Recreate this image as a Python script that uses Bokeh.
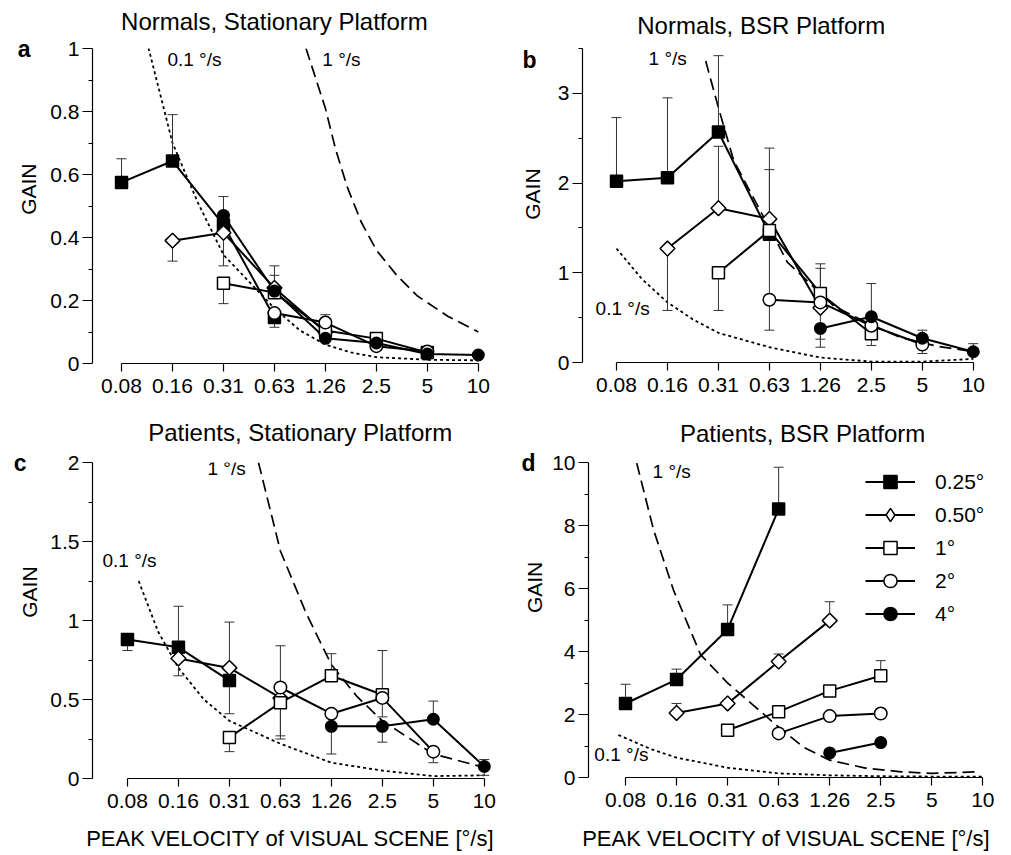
import math
from bokeh.plotting import figure
from bokeh.models import (Range1d, FixedTicker, CustomJSTickFormatter, Label,
                          Legend, LegendItem, LinearAxis)
from bokeh.layouts import column, row
from bokeh.embed import file_html
from bokeh.resources import INLINE

N = None
FONT = "Liberation Sans"

# ---------------- data ----------------
VEL = ["0.08", "0.16", "0.31", "0.63", "1.26", "2.5", "5", "10"]
SIZES = ["0.25°", "0.50°", "1°", "2°", "4°"]

# a: Normals, stationary platform (gain per velocity, None = not measured)
A_025 = [0.575, 0.643, 0.44, 0.146, N, N, N, N]
A_050 = [N, 0.39, 0.415, 0.24, 0.10, N, N, N]
A_1 = [N, N, 0.255, 0.225, 0.105, 0.079, 0.035, N]
A_2 = [N, N, N, 0.16, 0.13, 0.055, 0.038, N]
A_4 = [N, N, 0.47, 0.23, 0.08, 0.065, 0.03, 0.027]
A_ERR = [("0.25°", 0, 0.65), ("0.25°", 1, 0.79), ("0.25°", 3, 0.115),
         ("0.50°", 1, 0.325), ("0.50°", 2, 0.31), ("0.50°", 3, 0.31),
         ("1°", 2, 0.19), ("1°", 3, 0.28), ("2°", 4, 0.155), ("4°", 2, 0.53)]
A_DOT_X = [0.5, 1.0, 1.5, 2.0, 2.5, 3.0, 3.5, 4.0, 4.5, 5.0, 6.0, 7.0]
A_DOT_Y = [1.02, 0.70, 0.51, 0.345, 0.26, 0.175, 0.105, 0.06, 0.035, 0.02, 0.012, 0.01]
A_DASH_X = [3.62, 3.8, 4.0, 4.2, 4.43, 4.7, 5.0, 5.4, 5.8, 6.4, 7.0]
A_DASH_Y = [1.0, 0.91, 0.81, 0.68, 0.56, 0.45, 0.36, 0.28, 0.215, 0.15, 0.10]

# b: Normals, BSR platform
B_025 = [2.02, 2.06, 2.57, 1.43, N, N, N, N]
B_050 = [N, 1.27, 1.72, 1.60, 0.61, N, N, N]
B_1 = [N, N, 1.00, 1.47, 0.77, 0.32, N, N]
B_2 = [N, N, N, 0.70, 0.67, 0.41, 0.20, N]
B_4 = [N, N, N, N, 0.38, 0.51, 0.27, 0.12]
B_ERR = [("0.25°", 0, 2.73), ("0.25°", 1, 2.95), ("0.25°", 2, 3.42),
         ("0.25°", 3, 2.15), ("0.25°", 3, 0.36), ("0.50°", 1, 0.58),
         ("0.50°", 2, 2.41), ("0.50°", 3, 2.39), ("0.50°", 4, 0.26),
         ("1°", 2, 0.58), ("1°", 4, 1.10), ("1°", 5, 0.19), ("2°", 4, 1.05),
         ("2°", 6, 0.10), ("4°", 4, 0.17), ("4°", 5, 0.88), ("4°", 6, 0.36),
         ("4°", 7, 0.21)]
B_DOT_X = [0.0, 0.5, 1.0, 1.5, 2.0, 3.0, 4.0, 5.0, 6.0, 7.0]
B_DOT_Y = [1.27, 0.93, 0.67, 0.48, 0.33, 0.17, 0.055, 0.01, 0.01, 0.04]
B_DASH_X = [1.75, 2.0, 2.3, 3.0, 3.35, 4.26, 5.0, 5.57, 6.3, 6.9]
B_DASH_Y = [3.36, 2.84, 2.25, 1.5, 1.12, 0.63, 0.42, 0.28, 0.18, 0.13]

# c: Patients, stationary platform
C_025 = [0.88, 0.83, 0.62, N, N, N, N, N]
C_050 = [N, 0.76, 0.70, 0.51, N, N, N, N]
C_1 = [N, N, 0.26, 0.48, 0.65, 0.53, N, N]
C_2 = [N, N, N, 0.576, 0.41, 0.51, 0.17, N]
C_4 = [N, N, N, N, 0.33, 0.33, 0.375, 0.076]
C_ERR = [("0.25°", 0, 0.81), ("0.25°", 1, 1.09), ("0.25°", 2, 0.41),
         ("0.50°", 1, 0.65), ("0.50°", 2, 0.99), ("0.50°", 3, 0.25),
         ("1°", 2, 0.17), ("1°", 3, 0.84), ("1°", 4, 0.79), ("1°", 5, 0.81),
         ("2°", 3, 0.27), ("2°", 5, 0.39), ("2°", 6, 0.10), ("4°", 4, 0.155),
         ("4°", 5, 0.23), ("4°", 6, 0.49), ("4°", 7, 0.12), ("4°", 7, 0.02)]
C_DOT_X = [0.22, 0.6, 1.0, 1.5, 2.0, 3.0, 4.0, 5.0, 6.0, 7.0]
C_DOT_Y = [1.25, 0.93, 0.70, 0.50, 0.365, 0.22, 0.10, 0.05, 0.015, 0.02]
C_DASH_X = [2.57, 3.0, 3.5, 4.0, 4.5, 5.0, 6.0, 7.0]
C_DASH_Y = [2.0, 1.44, 1.05, 0.72, 0.52, 0.365, 0.155, 0.07]

# d: Patients, BSR platform
D_025 = [2.35, 3.11, 4.70, 8.52, N, N, N, N]
D_050 = [N, 2.05, 2.35, 3.68, 4.98, N, N, N]
D_1 = [N, N, 1.50, 2.09, 2.75, 3.23, N, N]
D_2 = [N, N, N, 1.40, 1.95, 2.03, N, N]
D_4 = [N, N, N, N, 0.78, 1.11, N, N]
D_ERR = [("0.25°", 0, 2.96), ("0.25°", 1, 3.44), ("0.25°", 2, 5.48),
         ("0.25°", 3, 9.85), ("0.50°", 1, 2.35), ("0.50°", 3, 3.92),
         ("0.50°", 4, 5.58), ("1°", 5, 3.71)]
D_DOT_X = [-0.14, 0.5, 1.0, 2.0, 3.0, 4.0, 5.0, 6.0, 7.0]
D_DOT_Y = [1.35, 0.90, 0.63, 0.31, 0.13, 0.07, 0.04, 0.03, 0.03]
D_DASH_X = [0.22, 0.55, 0.94, 1.47, 2.0, 2.5, 3.0, 3.5, 4.0, 4.7, 5.4, 6.0, 6.9]
D_DASH_Y = [9.98, 7.86, 5.95, 3.9, 3.0, 2.3, 1.6, 0.95, 0.55, 0.3, 0.18, 0.13, 0.18]

# ---------------- styling ----------------
STYLE = {
    "0.25°": dict(marker="square", size=12, fill_color="black", angle=0.0),
    "0.50°": dict(marker="square", size=10.5, fill_color="white", angle=math.pi / 4),
    "1°": dict(marker="square", size=12, fill_color="white", angle=0.0),
    "2°": dict(marker="circle", size=12.5, fill_color="white", angle=0.0),
    "4°": dict(marker="circle", size=11.5, fill_color="black", angle=0.0),
}
TICK_SIZE = "21px"


def make_fig(x0, x1, ytop, fw, fh, left, right, top, bottom, ymaj, ymin):
    p = figure(frame_width=fw, frame_height=fh, x_range=Range1d(x0, x1),
               y_range=Range1d(0, ytop), output_backend="svg",
               toolbar_location=None, min_border_left=left,
               min_border_right=right, min_border_top=top,
               min_border_bottom=bottom)
    p.outline_line_color = None
    p.grid.visible = False
    p.background_fill_color = "white"
    p.border_fill_color = "white"
    xa = p.below[0]
    xa.ticker = FixedTicker(ticks=list(range(len(VEL))))
    xa.major_label_overrides = {i: v for i, v in enumerate(VEL)}
    xa.bounds = (0, len(VEL) - 1)
    xa.major_tick_out = 8
    xa.major_tick_in = 0
    xa.major_label_standoff = 7
    ya = p.left[0]
    ya.ticker = FixedTicker(ticks=ymaj, minor_ticks=ymin)
    ya.formatter = CustomJSTickFormatter(code="return String(tick);")
    ya.bounds = (0, ytop)
    ya.major_tick_out = 10
    ya.major_tick_in = 0
    ya.minor_tick_out = 4
    ya.minor_tick_in = 0
    ya.major_label_standoff = 3
    for ax in (xa, ya):
        ax.axis_line_color = "black"
        ax.axis_line_width = 1.2
        ax.major_tick_line_color = "black"
        ax.major_tick_line_width = 1.2
        ax.minor_tick_line_color = "black" if ax is ya else None
        ax.major_label_text_font = FONT
        ax.major_label_text_font_size = TICK_SIZE
        ax.major_label_text_color = "black"
    return p


def text_axis(p, side, tick, text, size, standoff, bold=False, vertical=False):
    """A tick-less axis that carries one text (title, panel letter, GAIN)."""
    ax = LinearAxis(ticker=FixedTicker(ticks=[tick]),
                    major_label_overrides={tick: text})
    ax.axis_line_color = None
    ax.major_tick_line_color = None
    ax.minor_tick_line_color = None
    ax.major_tick_out = 0
    ax.major_tick_in = 0
    ax.minor_tick_out = 0
    ax.minor_tick_in = 0
    ax.major_label_standoff = standoff
    ax.major_label_text_font = FONT
    ax.major_label_text_font_size = size
    ax.major_label_text_color = "black"
    ax.major_label_text_font_style = "bold" if bold else "normal"
    if vertical:
        ax.major_label_orientation = math.pi / 2
    p.add_layout(ax, side)


def txt(p, x, y, text, size):
    p.add_layout(Label(x=x, y=y, text=text, text_font=FONT,
                       text_font_size=size, text_align="left",
                       text_baseline="middle", text_color="black"))


def xlabel(p, standoff):
    xa = p.below[0]
    xa.axis_label = "PEAK VELOCITY  of VISUAL SCENE [°/s]"
    xa.axis_label_text_font = FONT
    xa.axis_label_text_font_size = "22px"
    xa.axis_label_text_font_style = "normal"
    xa.axis_label_text_color = "black"
    xa.axis_label_standoff = standoff


def draw(p, series, err, dot_x, dot_y, dash_x, dash_y):
    gains = dict(zip(SIZES, series))
    p.line(dot_x, dot_y, line_color="black", line_width=1.8, line_dash="3 3")
    p.line(dash_x, dash_y, line_color="black", line_width=1.7, line_dash="12 6")
    ex, ey0, ey1 = [], [], []
    for name, i, end in err:
        ex.append(i)
        ey0.append(gains[name][i])
        ey1.append(end)
    p.segment(x0=ex, y0=ey0, x1=ex, y1=ey1, line_color="#333333", line_width=1)
    p.scatter(ex, ey1, marker="dash", size=10, line_color="#333333", line_width=1)
    lines, marks = {}, {}
    for name in SIZES:
        xs = [i for i, v in enumerate(gains[name]) if v is not None]
        ys = [gains[name][i] for i in xs]
        lines[name] = p.line(xs, ys, line_color="black", line_width=2)
    for name in SIZES:
        xs = [i for i, v in enumerate(gains[name]) if v is not None]
        ys = [gains[name][i] for i in xs]
        st = STYLE[name]
        marks[name] = p.scatter(xs, ys, marker=st["marker"], size=st["size"],
                                fill_color=st["fill_color"], angle=st["angle"],
                                line_color="black", line_width=1.5)
    return lines, marks


# panel a
pa = make_fig(-0.57, 7.2, 1.0, 396, 315, 92, 12, 46, 54,
              [0, 0.2, 0.4, 0.6, 0.8, 1], [0.1, 0.3, 0.5, 0.7, 0.9])
draw(pa, [A_025, A_050, A_1, A_2, A_4], A_ERR, A_DOT_X, A_DOT_Y, A_DASH_X, A_DASH_Y)
text_axis(pa, "above", 3.0, "Normals, Stationary Platform", "24px", 14)
text_axis(pa, "left", 0.635, "GAIN", "21px", 19, vertical=True)
text_axis(pa, "left", 1.0, "a", "23px", -28, bold=True)
txt(pa, 0.90, 0.965, "0.1 °/s", "19px")
txt(pa, 3.94, 0.965, "1 °/s", "19px")

# panel b
pb = make_fig(-0.667, 7.2, 3.5, 401, 314, 82, 27, 48, 53,
              [0, 1, 2, 3], [0.5, 1.5, 2.5, 3.5])
draw(pb, [B_025, B_050, B_1, B_2, B_4], B_ERR, B_DOT_X, B_DOT_Y, B_DASH_X, B_DASH_Y)
text_axis(pb, "above", 2.84, "Normals, BSR Platform", "24px", 10)
text_axis(pb, "left", 2.163, "GAIN", "21px", 22, vertical=True)
text_axis(pb, "left", 3.373, "b", "23px", -30, bold=True)
txt(pb, 0.63, 3.39, "1 °/s", "19px")
txt(pb, -0.41, 0.60, "0.1 °/s", "19px")

# panel c
pc = make_fig(-0.686, 7.2, 2.0, 402, 316, 92, 13, 47, 77,
              [0, 0.5, 1, 1.5, 2], [0.25, 0.75, 1.25, 1.75])
draw(pc, [C_025, C_050, C_1, C_2, C_4], C_ERR, C_DOT_X, C_DOT_Y, C_DASH_X, C_DASH_Y)
xlabel(pc, 15)
text_axis(pc, "above", 3.39, "Patients, Stationary Platform", "24px", 17)
text_axis(pc, "left", 1.342, "GAIN", "21px", 18, vertical=True)
text_axis(pc, "left", 2.0, "c", "23px", -23, bold=True)
txt(pc, 1.57, 1.96, "1 °/s", "19px")
txt(pc, -0.49, 1.38, "0.1 °/s", "19px")

# panel d
pd_ = make_fig(-0.725, 7.15, 10.0, 402, 315, 81, 21, 44, 81,
               [0, 2, 4, 6, 8, 10], [1, 3, 5, 7, 9])
lines_d, marks_d = draw(pd_, [D_025, D_050, D_1, D_2, D_4], D_ERR,
                        D_DOT_X, D_DOT_Y, D_DASH_X, D_DASH_Y)
xlabel(pd_, 16)
text_axis(pd_, "above", 3.47, "Patients, BSR Platform", "24px", 16)
text_axis(pd_, "left", 6.85, "GAIN", "21px", 15, vertical=True)
text_axis(pd_, "left", 10.0, "d", "23px", -27, bold=True)
txt(pd_, 0.53, 9.71, "1 °/s", "19px")
txt(pd_, -0.61, 0.73, "0.1 °/s", "19px")

# legend swatch for the 0.50° entry (legends cannot rotate a square into a
# diamond); it sits underneath the real diamonds so only the legend shows it
xs050 = [i for i, v in enumerate(D_050) if v is not None]
diamond_swatch = pd_.scatter(xs050, [D_050[i] for i in xs050], marker="diamond",
                             size=6, fill_color="white", line_color="black",
                             line_width=1.5, level="underlay")
legend_items = []
for n in SIZES:
    rs = [lines_d[n], diamond_swatch if n == "0.50°" else marks_d[n]]
    legend_items.append(LegendItem(label=n, renderers=rs))
legend = Legend(items=legend_items, location=(277, 147))
legend.label_text_font = FONT
legend.label_text_font_size = "21px"
legend.label_text_color = "black"
legend.glyph_width = 50
legend.glyph_height = 33
legend.label_height = 33
legend.spacing = 0
legend.padding = 0
legend.margin = 0
legend.label_standoff = 20
legend.border_line_color = None
legend.background_fill_alpha = 0
pd_.add_layout(legend)

layout = column(row(pa, pb), row(pc, pd_))
open("out.html", "w").write(file_html(layout, INLINE))
